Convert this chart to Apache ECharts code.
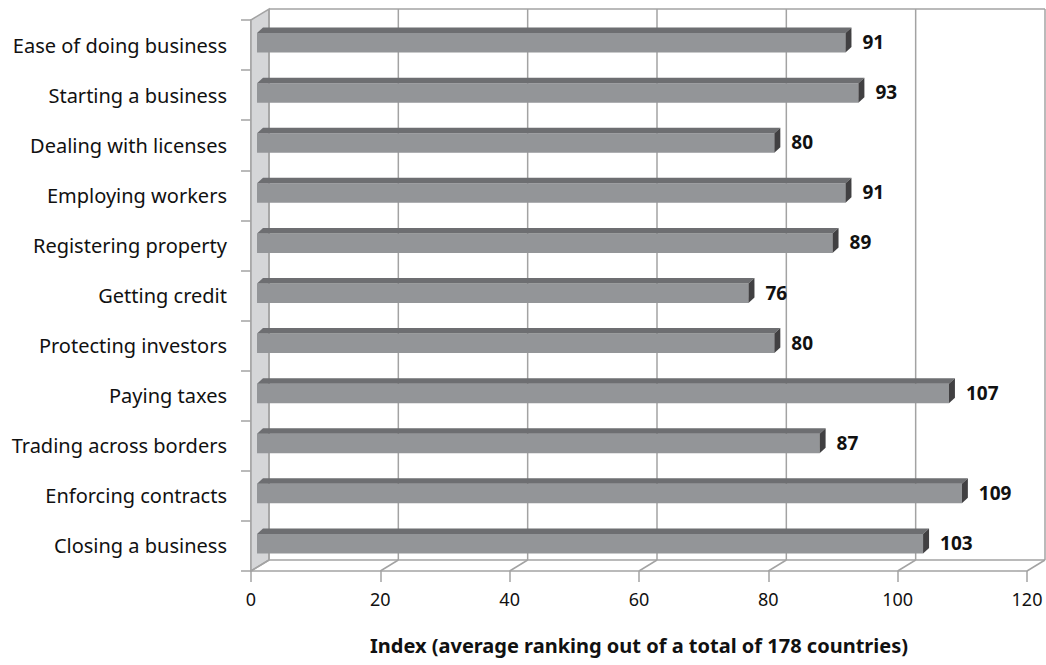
<!DOCTYPE html>
<html>
<head>
<meta charset="utf-8">
<script src="https://cdn.jsdelivr.net/npm/echarts@6/dist/echarts.min.js"></script>
<style>
html,body{margin:0;padding:0;background:#fff;}
#chart{width:1046px;height:665px;}
</style>
</head>
<body>
<div id="chart"></div>
<script>
const categories = [
  "Ease of doing business",
  "Starting a business",
  "Dealing with licenses",
  "Employing workers",
  "Registering property",
  "Getting credit",
  "Protecting investors",
  "Paying taxes",
  "Trading across borders",
  "Enforcing contracts",
  "Closing a business"
];
const values = [91, 93, 80, 91, 89, 76, 80, 107, 87, 109, 103];
const xTicks = [0, 20, 40, 60, 80, 100, 120];
const axisTitle = "Index (average ranking out of a total of 178 countries)";

const GRID = '#a3a3a3';
const DEPTH_X = 18, DEPTH_Y = 11;
const BAR_DX = 6, BAR_DY = 5.5;

function renderFrame(params, api) {
  const cs = params.coordSys;
  const top = cs.y, bottom = cs.y + cs.height;
  const xs = xTicks.map(v => api.coord([v, 0])[0]);
  const x0 = xs[0], xN = xs[xs.length - 1];
  const children = [];
  children.push({
    type: 'polygon',
    shape: { points: [[x0, top], [x0 + DEPTH_X, top - DEPTH_Y], [x0 + DEPTH_X, bottom - DEPTH_Y], [x0, bottom]] },
    style: { fill: '#d5d6d8', stroke: GRID, lineWidth: 1.5 }
  });
  children.push({ type: 'line', shape: { x1: x0 + DEPTH_X, y1: top - DEPTH_Y, x2: xN + DEPTH_X, y2: top - DEPTH_Y }, style: { stroke: GRID, lineWidth: 1.5 } });
  children.push({ type: 'line', shape: { x1: x0 + DEPTH_X, y1: bottom - DEPTH_Y, x2: xN + DEPTH_X, y2: bottom - DEPTH_Y }, style: { stroke: GRID, lineWidth: 1.5 } });
  xs.forEach(x => {
    children.push({ type: 'line', shape: { x1: x + DEPTH_X, y1: top - DEPTH_Y, x2: x + DEPTH_X, y2: bottom - DEPTH_Y }, style: { stroke: GRID, lineWidth: 1.5 } });
    children.push({ type: 'line', shape: { x1: x, y1: bottom, x2: x + DEPTH_X, y2: bottom - DEPTH_Y }, style: { stroke: GRID, lineWidth: 1.5 } });
  });
  return { type: 'group', children: children };
}

function renderBar(params, api) {
  const val = api.value(0), cat = api.value(1);
  const p0 = api.coord([0, cat]);
  const p1 = api.coord([val, cat]);
  const yc = p0[1];
  const fx0 = p0[0] + BAR_DX, fx1 = p1[0] + BAR_DX;
  const yTop = yc - 12, yBot = yc + 7.5;
  return {
    type: 'group',
    children: [
      { type: 'rect', shape: { x: fx0, y: yTop, width: fx1 - fx0, height: yBot - yTop }, style: { fill: '#939598' } },
      { type: 'polygon', shape: { points: [[fx0, yTop], [fx0 + BAR_DX, yTop - BAR_DY], [fx1 + BAR_DX, yTop - BAR_DY], [fx1, yTop]] }, style: { fill: '#6d6e71' } },
      { type: 'polygon', shape: { points: [[fx1, yTop], [fx1 + BAR_DX, yTop - BAR_DY], [fx1 + BAR_DX, yBot - BAR_DY], [fx1, yBot]] }, style: { fill: '#414042' } },
      { type: 'text', x: fx1 + 17, y: yc - 3, style: { text: String(val), fill: '#111', font: 'bold 19px "Noto Sans"', verticalAlign: 'middle', align: 'left' } }
    ]
  };
}

const chart = echarts.init(document.getElementById('chart'), null, { renderer: 'svg' });
chart.setOption({
  animation: false,
  backgroundColor: '#fff',
  grid: { left: 251, right: 19, top: 20, bottom: 94, containLabel: false },
  xAxis: {
    type: 'value', min: 0, max: 120, interval: 20,
    axisLine: { show: true, lineStyle: { color: GRID, width: 1.5 } },
    axisTick: { show: true, length: 11, lineStyle: { color: GRID, width: 1.5 } },
    splitLine: { show: false },
    axisLabel: { margin: 19, color: '#111', fontSize: 18, fontFamily: 'Noto Sans',
      formatter: v => String(xTicks[xTicks.indexOf(v)]) },
    name: axisTitle, nameLocation: 'middle', nameGap: 64,
    nameTextStyle: { color: '#111', fontSize: 20, fontWeight: 'bold', fontFamily: 'Noto Sans' }
  },
  yAxis: {
    type: 'category', data: categories, inverse: true,
    axisLine: { show: true, lineStyle: { color: GRID, width: 1.5 } },
    axisTick: { show: true, length: 10, lineStyle: { color: GRID, width: 1.5 } },
    axisLabel: { margin: 24, color: '#111', fontSize: 20, fontFamily: 'Noto Sans', padding: [0, 0, 8, 0] },
    splitLine: { show: false }
  },
  series: [
    { type: 'custom', name: 'frame', z: 1, silent: true, data: [[0, 0]], encode: { x: 0, y: 1 }, renderItem: renderFrame, clip: false },
    { type: 'custom', name: 'Index', z: 3, data: values.map((v, i) => [v, i]), encode: { x: 0, y: 1 }, renderItem: renderBar, clip: false }
  ]
});
</script>
</body>
</html>
